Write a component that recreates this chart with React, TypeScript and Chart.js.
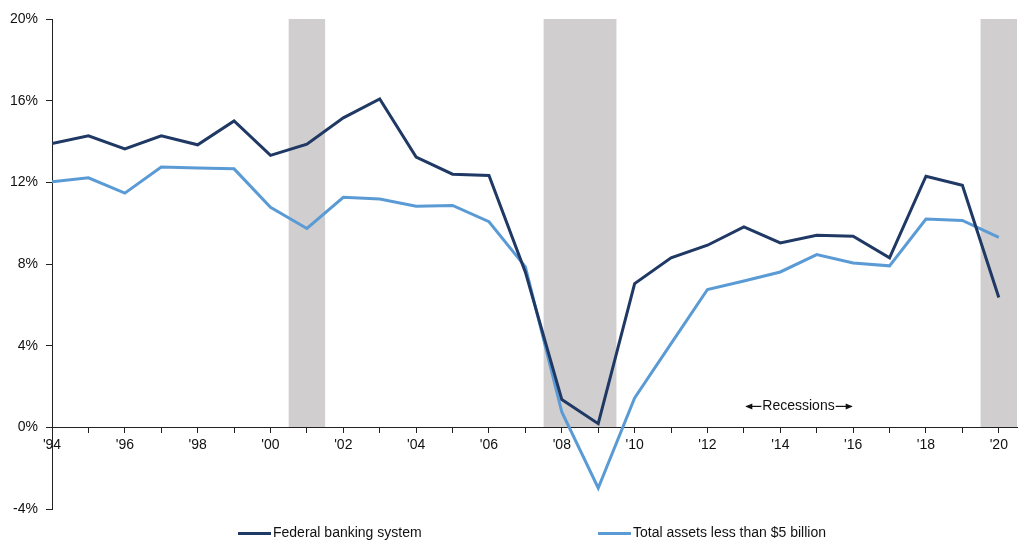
import React, { useEffect, useRef } from 'react';
import { Chart, registerables } from 'chart.js';

Chart.register(...registerables);

// Annual values, 1994–2020 (percent)
const years = [
  1994, 1995, 1996, 1997, 1998, 1999, 2000, 2001, 2002, 2003, 2004, 2005, 2006, 2007,
  2008, 2009, 2010, 2011, 2012, 2013, 2014, 2015, 2016, 2017, 2018, 2019, 2020,
];
const federalBanking = [
  13.9, 14.28, 13.64, 14.28, 13.84, 15.01, 13.32, 13.87, 15.16, 16.08, 13.24, 12.4, 12.34, 7.6,
  1.36, 0.18, 7.04, 8.3, 8.92, 9.82, 9.03, 9.41, 9.36, 8.3, 12.3, 11.86, 6.36,
];
const smallBanks = [
  12.03, 12.22, 11.47, 12.75, 12.7, 12.66, 10.78, 9.74, 11.27, 11.18, 10.83, 10.87, 10.07, 7.86,
  0.75, -2.97, 1.44, 4.1, 6.75, 7.17, 7.61, 8.46, 8.05, 7.91, 10.2, 10.13, 9.3,
];
// Recession periods [start, end] in year units
const recessionStarts = [2000.5, 2007.5, 2019.5];
const recessionEnds = [2001.5, 2009.5, 2020.5];
const yTickValues = [-4, 0, 4, 8, 12, 16, 20];
const seriesNames = ['Federal banking system', 'Total assets less than $5 billion'];
const recessionLabel = 'Recessions';

const NAVY = '#1f3864';
const LIGHT = '#5b9bd5';
const SHADE = '#d0cece';
const FONT = "'Liberation Sans', Arial, sans-serif";

const recessionPlugin = {
  id: 'recessionShading',
  beforeDraw(chart: any) {
    const { ctx, scales } = chart;
    const x = scales.x;
    const y = scales.y;
    ctx.save();
    ctx.fillStyle = SHADE;
    for (let i = 0; i < recessionStarts.length; i++) {
      const x0 = x.getPixelForValue(recessionStarts[i]);
      const x1 = x.getPixelForValue(recessionEnds[i]);
      const y0 = y.getPixelForValue(20);
      const y1 = y.getPixelForValue(0);
      ctx.fillRect(x0, y0, x1 - x0, y1 - y0);
    }
    ctx.restore();
  },
  afterDraw(chart: any) {
    const { ctx, scales } = chart;
    const x = scales.x;
    const y = scales.y;
    ctx.save();
    // "←Recessions→" note
    ctx.font = `14px ${FONT}`;
    ctx.fillStyle = '#111';
    ctx.strokeStyle = '#111';
    ctx.textBaseline = 'middle';
    ctx.textAlign = 'center';
    const cx = x.getPixelForValue(2014.5);
    const cy = y.getPixelForValue(1.05);
    ctx.fillText(recessionLabel, cx, cy);
    const half = ctx.measureText(recessionLabel).width / 2;
    const drawArrow = (from: number, to: number) => {
      ctx.lineWidth = 1.2;
      ctx.beginPath();
      ctx.moveTo(from, cy + 0.5);
      ctx.lineTo(to, cy + 0.5);
      ctx.stroke();
      const dir = Math.sign(to - from);
      ctx.beginPath();
      ctx.moveTo(to + dir * 1, cy + 0.5);
      ctx.lineTo(to - dir * 6, cy - 2.5);
      ctx.lineTo(to - dir * 6, cy + 3.5);
      ctx.closePath();
      ctx.fill();
    };
    drawArrow(cx - half - 1, cx - half - 16);
    drawArrow(cx + half + 1, cx + half + 17);

    // Legend
    const legendY = 533.5;
    const items = [
      { label: seriesNames[0], color: NAVY, x: 238 },
      { label: seriesNames[1], color: LIGHT, x: 598 },
    ];
    ctx.textAlign = 'left';
    for (const it of items) {
      ctx.strokeStyle = it.color;
      ctx.lineWidth = 3;
      ctx.beginPath();
      ctx.moveTo(it.x, legendY);
      ctx.lineTo(it.x + 33, legendY);
      ctx.stroke();
      ctx.fillStyle = '#111';
      ctx.fillText(it.label, it.x + 35, legendY);
    }
    ctx.restore();
  },
};

export default function App() {
  const canvasRef = useRef<HTMLCanvasElement | null>(null);

  useEffect(() => {
    document.body.style.margin = '0';
    const canvas = canvasRef.current;
    if (!canvas) return;
    Chart.defaults.font.family = FONT;
    Chart.defaults.font.size = 14;
    Chart.defaults.color = '#111';

    const chart = new Chart(canvas, {
      type: 'line',
      data: {
        datasets: [
          {
            label: seriesNames[0],
            data: years.map((yr, i) => ({ x: yr, y: federalBanking[i] })),
            borderColor: NAVY,
            backgroundColor: NAVY,
            borderWidth: 3,
            pointRadius: 0,
            tension: 0,
          },
          {
            label: seriesNames[1],
            data: years.map((yr, i) => ({ x: yr, y: smallBanks[i] })),
            borderColor: LIGHT,
            backgroundColor: LIGHT,
            borderWidth: 3,
            pointRadius: 0,
            tension: 0,
          },
        ],
      },
      options: {
        responsive: false,
        animation: false,
        devicePixelRatio: 1,
        layout: { padding: { top: 19, bottom: 32, right: 9, left: 0 } },
        plugins: {
          legend: { display: false },
          tooltip: { enabled: false },
        },
        scales: {
          x: {
            type: 'linear',
            position: { y: 0 } as any,
            min: 1994,
            max: 2020.5,
            grid: {
              drawOnChartArea: false,
              drawTicks: true,
              tickLength: 5,
              color: '#222',
            },
            border: { display: true, color: '#222', width: 1 },
            ticks: {
              stepSize: 1,
              autoSkip: false,
              includeBounds: false,
              maxRotation: 0,
              padding: 4,
              color: '#111',
              callback: (v: any) => {
                const n = Number(v);
                if (!years.includes(n) || n % 2 !== 0) return '';
                return "'" + String(n).slice(2);
              },
            },
          },
          y: {
            type: 'linear',
            min: -4,
            max: 20,
            afterFit: (scale: any) => {
              scale.width = 52;
            },
            afterBuildTicks: (scale: any) => {
              scale.ticks = yTickValues.map((v) => ({ value: v }));
            },
            grid: {
              drawOnChartArea: false,
              drawTicks: true,
              tickLength: 6,
              color: '#222',
            },
            border: { display: true, color: '#222', width: 1 },
            ticks: {
              padding: 8,
              color: '#111',
              callback: (v: any) => `${v}%`,
            },
          },
        },
      },
      plugins: [recessionPlugin],
    });
    return () => chart.destroy();
  }, []);

  return (
    <div style={{ position: 'absolute', left: 0, top: 0, width: 1026, height: 541 }}>
      <canvas ref={canvasRef} width={1026} height={541} />
    </div>
  );
}
